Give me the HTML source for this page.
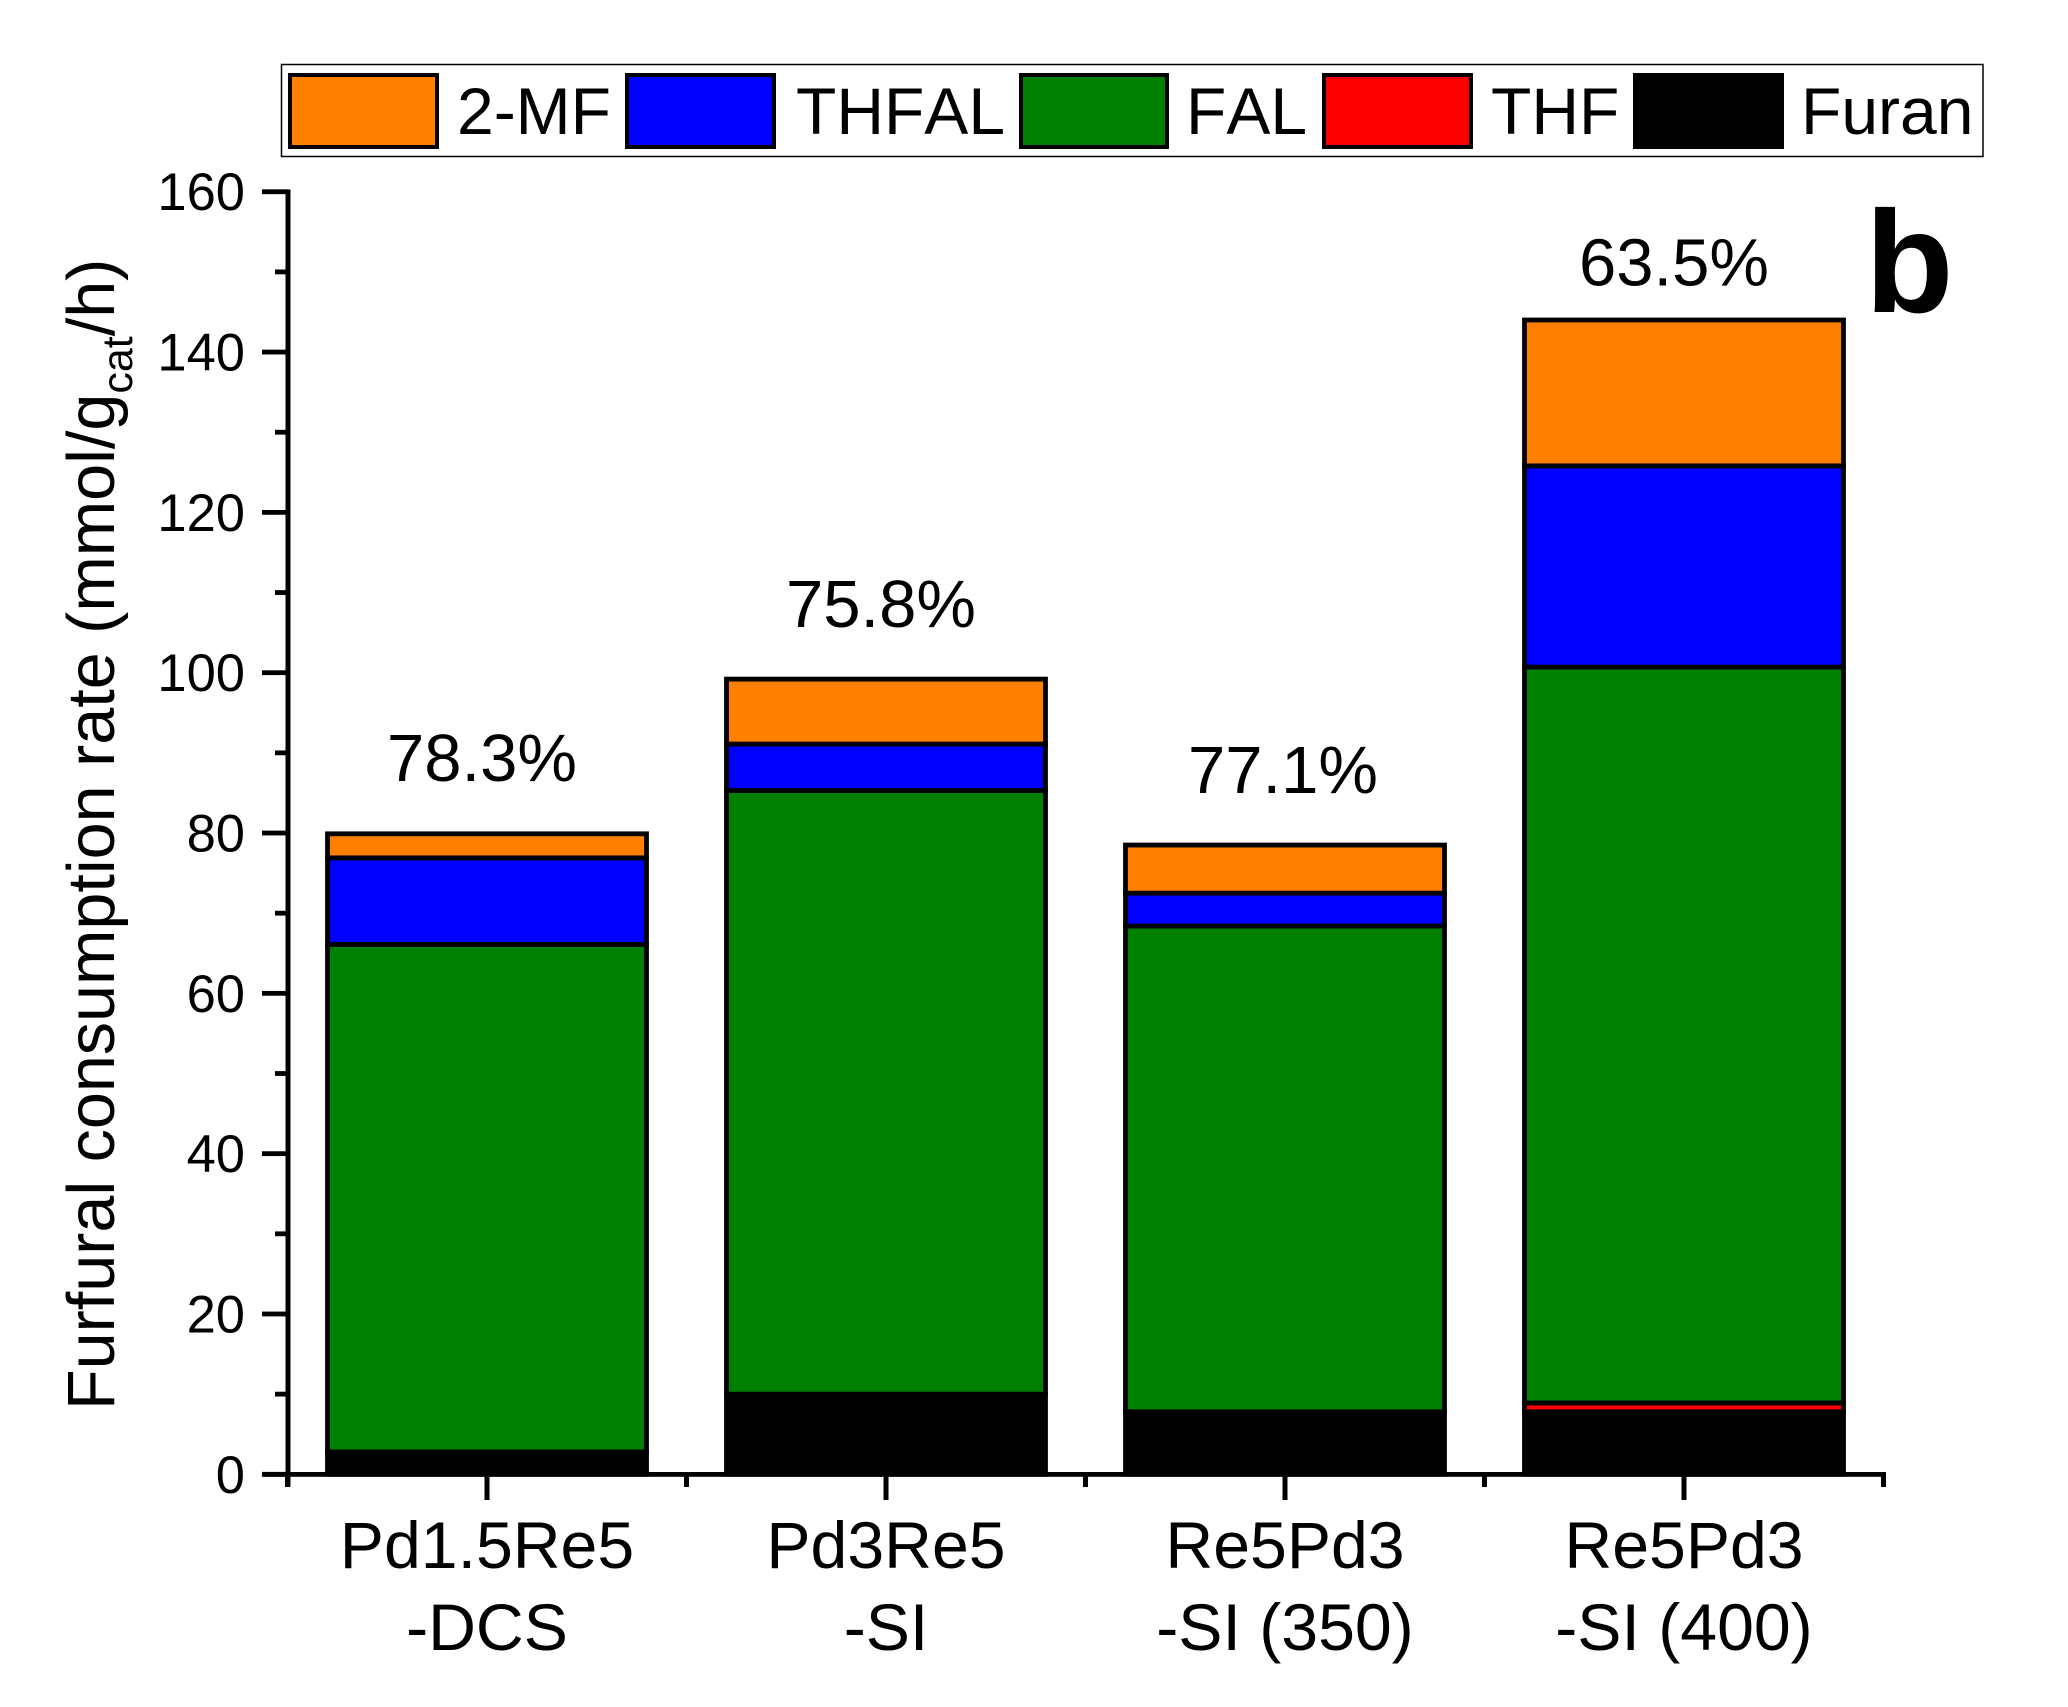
<!DOCTYPE html>
<html lang="en">
<head>
<meta charset="utf-8">
<title>Furfural consumption rate</title>
<style>
  html, body { margin: 0; padding: 0; background: #fff; }
  svg { display: block; }
  text { font-family: "Liberation Sans", Arial, sans-serif; fill: #000; font-kerning: none; }
</style>
</head>
<body>
<svg id="chart" xmlns="http://www.w3.org/2000/svg" width="2068" height="1707" viewBox="0 0 2068 1707">
  <rect x="0" y="0" width="2068" height="1707" fill="#fff"/>

  <g id="marks"></g>
  <g id="axes"></g>

  <g>
    <rect x="281.5" y="64.5" width="1701.5" height="92" fill="#fff" stroke="#000" stroke-width="1.5"/>
    <g>
      <rect x="290" y="75" width="147" height="72" fill="#ff8000" stroke="#000" stroke-width="4"/>
      <text x="457" y="134" font-size="66">2-MF</text>
    </g>
    <g>
      <rect x="627" y="75" width="147" height="72" fill="#0000ff" stroke="#000" stroke-width="4"/>
      <text x="796" y="134" font-size="66">THFAL</text>
    </g>
    <g>
      <rect x="1021" y="75" width="146" height="72" fill="#008000" stroke="#000" stroke-width="4"/>
      <text x="1186" y="134" font-size="66">FAL</text>
    </g>
    <g>
      <rect x="1324" y="75" width="147" height="72" fill="#ff0000" stroke="#000" stroke-width="4"/>
      <text x="1491" y="134" font-size="66">THF</text>
    </g>
    <g>
      <rect x="1635" y="75" width="147" height="72" fill="#000" stroke="#000" stroke-width="4"/>
      <text x="1801" y="134" font-size="66">Furan</text>
    </g>
  </g>

  <text transform="translate(114 1410) rotate(-90)" x="0" y="0" font-size="66.5">Furfural consumption rate (mmol/g<tspan font-size="43" dy="18">cat</tspan><tspan dy="-18">/h)</tspan></text>

  <text x="1865" y="312" font-size="145" font-weight="bold">b</text>

  <script>
    // Chart data
    const categories = [["Pd1.5Re5", "-DCS"], ["Pd3Re5", "-SI"], ["Re5Pd3", "-SI (350)"], ["Re5Pd3", "-SI (400)"]];
    const furan = [2.8, 10.0, 7.8, 7.8];
    const thf = [0, 0, 0, 1.1];
    const fal = [63.3, 75.3, 60.6, 91.8];
    const thfal = [10.8, 5.8, 4.1, 25.1];
    const mf2 = [3.0, 8.1, 6.0, 18.2];
    const conversions = ["78.3%", "75.8%", "77.1%", "63.5%"];
    const conversionLift = [6.6, 6.5, 6.5, 4.3];
    const conversionShift = [-0.0125, -0.0125, -0.005, -0.025];
    const yTickLabels = [0, 20, 40, 60, 80, 100, 120, 140, 160];
    const yMinorTicks = [10, 30, 50, 70, 90, 110, 130, 150];

    const SVG_NS = "http://www.w3.org/2000/svg";
    const yAt = v => 1474.3 - v * 8.016;
    const xAt = i => 487 + i * 399;

    const seriesList = [
      { key: "furan", values: furan, color: "#000000" },
      { key: "thf", values: thf, color: "#ff0000" },
      { key: "fal", values: fal, color: "#008000" },
      { key: "thfal", values: thfal, color: "#0000ff" },
      { key: "2-mf", values: mf2, color: "#ff8000" }
    ];

    const marks = document.getElementById("marks");
    const axes = document.getElementById("axes");

    function shape(tag, parent, attrs) {
      const el = document.createElementNS(SVG_NS, tag);
      for (const k in attrs) el.setAttribute(k, attrs[k]);
      parent.appendChild(el);
      return el;
    }

    const barWidth = 319;
    categories.forEach(function (cat, i) {
      let base = 0;
      seriesList.forEach(function (s) {
        const v = s.values[i];
        if (v > 0) {
          const r = shape("rect", marks, {
            x: xAt(i) - barWidth / 2,
            y: yAt(base + v),
            width: barWidth,
            height: yAt(base) - yAt(base + v),
            fill: s.color,
            stroke: "#000",
            "stroke-width": 4.8
          });
          
          
        }
        base += v;
      });
      const pct = shape("text", marks, {
        x: xAt(i + conversionShift[i]),
        y: yAt(base + conversionLift[i]),
        "font-size": 67,
        "text-anchor": "middle"
      });
      pct.textContent = conversions[i];
      
      

      const tick = shape("rect", axes, { x: xAt(i) - 2.5, y: 1474, width: 5, height: 26, fill: "#000" });
      
      

      const l1 = shape("text", axes, { x: xAt(i), y: 1568, "font-size": 66.2, "text-anchor": "middle" });
      l1.textContent = cat[0];
      
      

      const l2 = shape("text", axes, { x: xAt(i), y: 1650, "font-size": 66.2, "text-anchor": "middle" });
      l2.textContent = cat[1];
      
      
    });

    for (let i = 0; i <= categories.length; i++) {
      const t = shape("rect", axes, { x: xAt(i) - 199.5 - 2.5, y: 1474, width: 5, height: 13, fill: "#000" });
      
      
    }

    const xAxis = shape("rect", axes, { x: 262, y: 1472, width: 1624, height: 4.8, fill: "#000" });
    
    

    const yAxis = shape("rect", axes, { x: 285.5, y: 189.5, width: 5, height: 1297, fill: "#000" });
    
    

    yTickLabels.forEach(function (v) {
      const t = shape("rect", axes, { x: 262, y: yAt(v) - 2.4, width: 26, height: 4.8, fill: "#000" });
      
      
      const lab = shape("text", axes, { x: 245, y: yAt(v) + 18.5, "font-size": 52.5, "text-anchor": "end" });
      lab.textContent = v;
      
      
    });

    yMinorTicks.forEach(function (v) {
      const t = shape("rect", axes, { x: 275, y: yAt(v) - 2.4, width: 13, height: 4.8, fill: "#000" });
      
      
    });
  </script>
</svg>
</body>
</html>
